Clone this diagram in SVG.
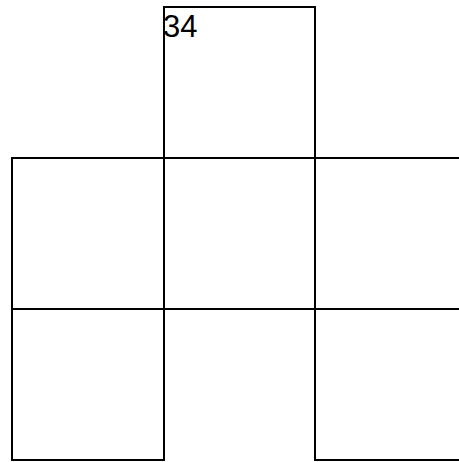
<svg xmlns="http://www.w3.org/2000/svg" width="459" height="462" viewBox="0 0 459 462">
<style>
.cell{fill:none;stroke:#000;stroke-width:2;stroke-linecap:square}
.lbl{font-family:"Liberation Sans",Arial,sans-serif;font-size:31px;fill:#000}
</style>
<rect width="459" height="462" fill="#fff"/>
<g id="cell-top">
<path class="cell" d="M164,158 V7 H315 V158"/>
<text class="lbl" x="163" y="37">34</text>
</g>
<g id="cell-mid-left"><path class="cell" d="M12,309 V158 H164"/></g>
<g id="cell-mid-center"><path class="cell" d="M164,158 H315 M164,158 V309"/></g>
<g id="cell-mid-right"><path class="cell" d="M315,158 H460 M315,158 V309"/></g>
<g id="cell-bot-left"><path class="cell" d="M12,309 V460 H164 V309 H12"/></g>
<g id="cell-bot-center"><path class="cell" d="M164,309 H315"/></g>
<g id="cell-bot-right"><path class="cell" d="M315,309 H460 M315,309 V460 H460"/></g>
</svg>
